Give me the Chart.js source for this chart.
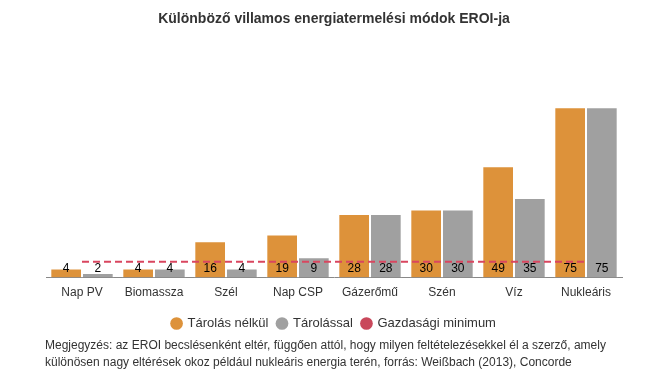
<!DOCTYPE html>
<html>
<head>
<meta charset="utf-8">
<script src="https://cdn.jsdelivr.net/npm/chart.js@4/dist/chart.umd.min.js"></script>
<style>
  body { margin: 0; background: #fff; font-family: 'Liberation Sans', Arial, sans-serif; }
  #wrap { position: relative; width: 655px; height: 390px; }
  #box { position: absolute; left: 0; top: 0; width: 655px; height: 340px; }
  #note { position: absolute; left: 45px; top: 337px; width: 600px; font-size: 12px; line-height: 17px; color: #333; }
</style>
</head>
<body>
<div id="wrap">
  <div id="box"><canvas id="chart"></canvas></div>
  <div id="note">Megjegyzés: az EROI becslésenként eltér, függően attól, hogy milyen feltételezésekkel él a szerző, amely különösen nagy eltérések okoz például nukleáris energia terén, forrás: Weißbach (2013), Concorde</div>
</div>
<script>
const categories = ['Nap PV', 'Biomassza', 'Szél', 'Nap CSP', 'Gázerőmű', 'Szén', 'Víz', 'Nukleáris'];
const withoutStorage = [4, 4, 16, 19, 28, 30, 49, 75];
const withStorage = [2, 4, 4, 9, 28, 30, 35, 75];
const economicMinimum = [7, 7, 7, 7, 7, 7, 7, 7];

const barLabels = {
  id: 'barLabels',
  afterDatasetsDraw(chart) {
    const ctx = chart.ctx;
    ctx.save();
    ctx.font = '12px "Liberation Sans", Arial, sans-serif';
    ctx.fillStyle = '#000';
    ctx.textAlign = 'center';
    ctx.textBaseline = 'middle';
    [0, 1].forEach((di) => {
      const meta = chart.getDatasetMeta(di);
      meta.data.forEach((bar, i) => {
        ctx.fillText(chart.data.datasets[di].data[i], bar.x, bar.base - 9);
      });
    });
    ctx.restore();
  }
};

new Chart(document.getElementById('chart'), {
  type: 'bar',
  data: {
    labels: categories,
    datasets: [
      {
        label: 'Tárolás nélkül',
        data: withoutStorage,
        backgroundColor: '#dd923a',
        borderColor: '#ffffff',
        borderWidth: 1,
        categoryPercentage: 0.88,
        barPercentage: 1,
        order: 1,
      },
      {
        label: 'Tárolással',
        data: withStorage,
        backgroundColor: '#a0a0a0',
        borderColor: '#ffffff',
        borderWidth: 1,
        categoryPercentage: 0.88,
        barPercentage: 1,
        order: 1,
      },
      {
        type: 'line',
        label: 'Gazdasági minimum',
        data: economicMinimum,
        borderColor: '#d9465f',
        backgroundColor: '#c9485b',
        borderWidth: 2,
        borderDash: [7, 4],
        pointRadius: 0,
        order: 0,
      },
    ],
  },
  options: {
    responsive: true,
    maintainAspectRatio: false,
    animation: false,
    layout: { padding: { left: 46, right: 33, top: 0, bottom: 0 } },
    plugins: {
      title: {
        display: true,
        text: 'Különböző villamos energiatermelési módok EROI-ja',
        color: '#333',
        font: { family: '"Liberation Sans", Arial, sans-serif', size: 14, weight: 'bold' },
        padding: { top: 11, bottom: 68 },
      },
      legend: {
        position: 'bottom',
        labels: {
          usePointStyle: true,
          pointStyle: 'circle',
          boxWidth: 9,
          boxHeight: 9,
          color: '#333',
          padding: 9,
          font: { family: '"Liberation Sans", Arial, sans-serif', size: 13 },
          generateLabels: (chart) => chart.data.datasets.map((ds, i) => ({
            text: ds.label,
            fillStyle: ds.backgroundColor,
            strokeStyle: ds.backgroundColor,
            lineWidth: 0,
            pointStyle: 'circle',
            datasetIndex: i,
            fontColor: '#333',
          })),
        },
      },
      tooltip: { enabled: false },
    },
    scales: {
      x: {
        grid: { display: false, drawTicks: false },
        border: { color: '#888' },
        ticks: { color: '#333', padding: 8, font: { family: '"Liberation Sans", Arial, sans-serif', size: 12 } },
      },
      y: {
        display: false,
        min: 0,
        max: 80,
      },
    },
  },
  plugins: [barLabels],
});
</script>
</body>
</html>
